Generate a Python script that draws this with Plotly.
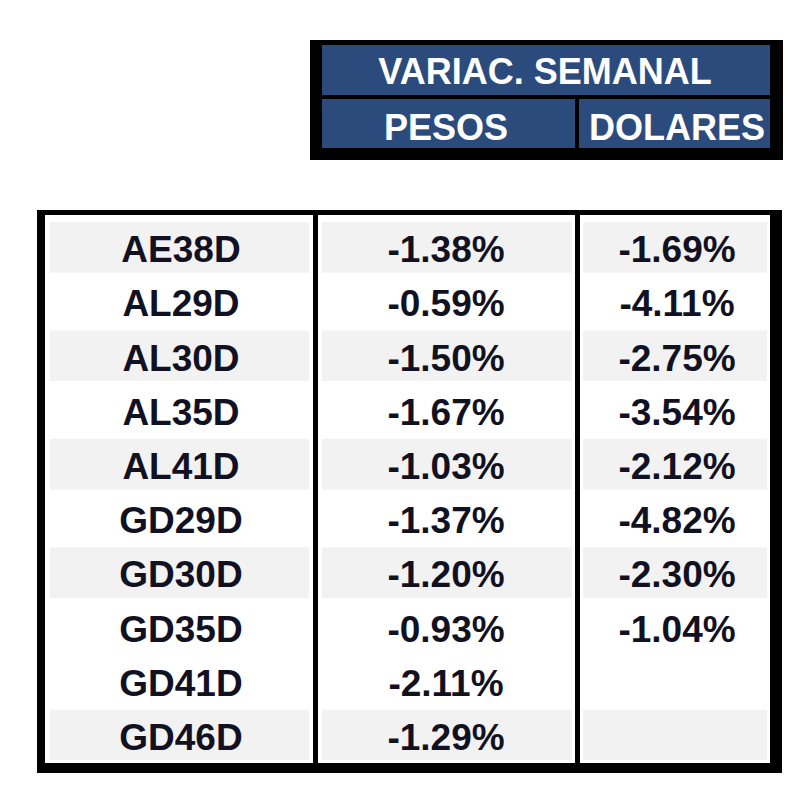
import plotly.graph_objects as go

# data
tickers = ["AE38D", "AL29D", "AL30D", "AL35D", "AL41D",
           "GD29D", "GD30D", "GD35D", "GD41D", "GD46D"]
pesos = [-1.38, -0.59, -1.50, -1.67, -1.03, -1.37, -1.20, -0.93, -2.11, -1.29]
dolares = [-1.69, -4.11, -2.75, -3.54, -2.12, -4.82, -2.30, -1.04, None, None]
header_top = "VARIAC. SEMANAL"
header_cols = ["PESOS", "DOLARES"]

W, H = 806, 810
OFF = 8  # page body margin
BLUE = "#2C4B7D"
GRAY = "#F2F2F2"
TXT = "#111122"
FONT = "Liberation Sans"

row_top = 222
row_h = 54.2
shaded = [0, 2, 4, 6, 9]
cols = [(50, 309), (322, 572), (583, 767)]

fig = go.Figure()
shapes = []

def rect(x0, y0, x1, y1, color):
    shapes.append(dict(type="rect", xref="x", yref="y", x0=x0, y0=y0, x1=x1, y1=y1,
                       fillcolor=color, line=dict(width=0), layer="below"))

# header block
rect(310, 40, 783, 160, "black")
rect(322, 45, 770, 95, BLUE)
rect(322, 99, 575, 148, BLUE)
rect(579, 99, 770, 148, BLUE)

# body frame
rect(37, 210, 782, 773, "black")
rect(45, 215, 770, 763, "white")
for i in shaded:
    y0 = row_top + i * row_h
    for c0, c1 in cols:
        rect(c0, y0, c1, min(y0 + row_h - 3.5, 760), GRAY)
rect(313, 215, 318, 763, "black")
rect(575, 215, 580, 763, "black")

fig.update_layout(shapes=shapes)

# header text
fig.add_trace(go.Scatter(
    x=[545, 446, 677], y=[75, 131, 131],
    text=[header_top] + header_cols, mode="text",
    textfont=dict(family=FONT, size=36, color="white", weight="bold"),
    hoverinfo="skip", showlegend=False))

# body text
ys = [row_top + i * row_h + 31 for i in range(len(tickers))]
fig.add_trace(go.Scatter(
    x=[181] * len(tickers), y=ys, text=tickers, mode="text",
    textfont=dict(family=FONT, size=37, color=TXT, weight="bold"),
    hoverinfo="skip", showlegend=False))
fig.add_trace(go.Scatter(
    x=[446] * len(pesos), y=ys, text=[f"{v:.2f}%" for v in pesos], mode="text",
    textfont=dict(family=FONT, size=37, color=TXT, weight="bold"),
    hoverinfo="skip", showlegend=False))
dol_y = [y for y, v in zip(ys, dolares) if v is not None]
dol_t = [f"{v:.2f}%" for v in dolares if v is not None]
fig.add_trace(go.Scatter(
    x=[677] * len(dol_t), y=dol_y, text=dol_t, mode="text",
    textfont=dict(family=FONT, size=37, color=TXT, weight="bold"),
    hoverinfo="skip", showlegend=False))

fig.update_layout(
    width=W - OFF, height=H - OFF, margin=dict(l=0, r=0, t=0, b=0),
    paper_bgcolor="white", plot_bgcolor="white",
    xaxis=dict(range=[OFF, W], visible=False, fixedrange=True),
    yaxis=dict(range=[H, OFF], visible=False, fixedrange=True),
)

fig.write_html("out.html")
